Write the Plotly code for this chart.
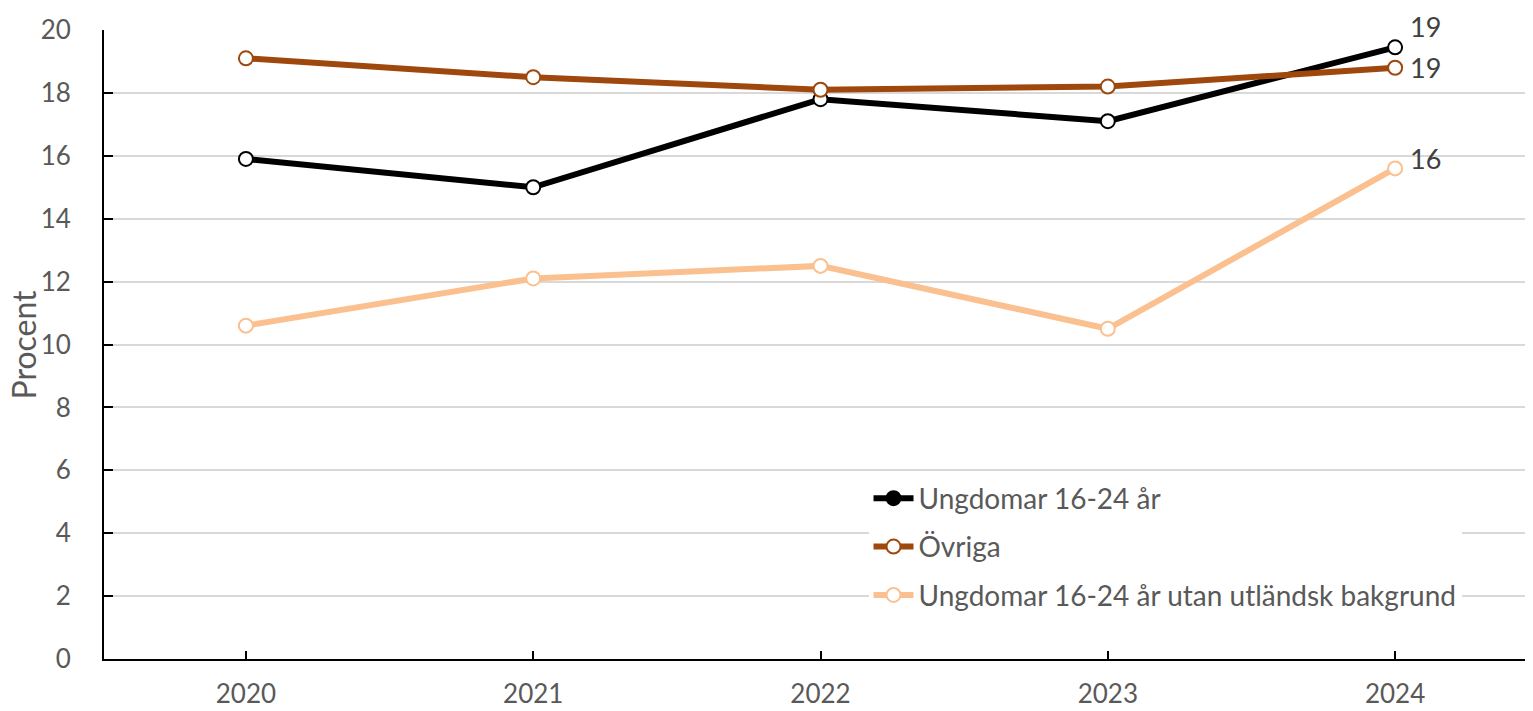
import plotly.graph_objects as go

years = ["2020", "2021", "2022", "2023", "2024"]
ungdomar = [15.9, 15.0, 17.8, 17.1, 19.45]
ovriga = [19.1, 18.5, 18.1, 18.2, 18.8]
ungdomar_utan = [10.6, 12.1, 12.5, 10.5, 15.6]
y_ticks = [0, 2, 4, 6, 8, 10, 12, 14, 16, 18, 20]
y_title = "Procent"

# name, values, line colour, legend marker fill, label y-shift
series = [
    ("Ungdomar 16-24 år", ungdomar, "#000000", "#000000", 21),
    ("Övriga", ovriga, "#9E480E", "white", 0),
    ("Ungdomar 16-24 år utan utländsk bakgrund", ungdomar_utan, "#FBC08F", "white", 10),
]

FONT = "Lato"
TXT = "#595959"

fig = go.Figure()
xs = list(range(len(years)))
for i, (name, vals, color, legfill, yshift) in enumerate(series):
    fig.add_trace(go.Scatter(
        x=xs, y=vals, name=name, mode="lines+markers", showlegend=False,
        line=dict(color=color, width=6),
        marker=dict(symbol="circle", size=14, color="white",
                    line=dict(color=color, width=2)),
    ))
    # legend entry
    fig.add_trace(go.Scatter(
        x=[None], y=[None], name=name, mode="lines+markers",
        legendgroup=f"g{i}",
        line=dict(color=color, width=6),
        marker=dict(symbol="circle", size=14, color=legfill,
                    line=dict(color=color, width=2)),
    ))
    fig.add_annotation(
        x=xs[-1], y=vals[-1], text=f"{vals[-1]:.0f}",
        showarrow=False, xanchor="left", yanchor="middle",
        xshift=13, yshift=yshift,
        font=dict(family=FONT, size=27, color="#404040"),
    )

# y-axis title as rotated text
fig.add_annotation(
    xref="paper", yref="paper", x=-0.056, y=0.5, text=y_title,
    textangle=-90, showarrow=False, xanchor="center", yanchor="middle",
    font=dict(family=FONT, size=32, color=TXT),
)

fig.update_layout(
    width=1525, height=703,
    margin=dict(l=96, r=0, t=22, b=52),
    plot_bgcolor="white", paper_bgcolor="white",
    font=dict(family=FONT, size=26, color=TXT),
    showlegend=True,
    legend=dict(
        x=0.535, y=0.295, xanchor="left", yanchor="top",
        bgcolor="white", font=dict(family=FONT, size=28, color=TXT),
        itemwidth=40, tracegroupgap=9, traceorder="grouped",
        borderwidth=0,
    ),
    xaxis=dict(
        tickmode="array", tickvals=xs, ticktext=years,
        range=[-0.494, 4.48], showgrid=False, zeroline=False, automargin=False,
        showline=True, linecolor="black", linewidth=2,
        ticks="inside", ticklen=8, tickwidth=2, tickcolor="black",
        ticklabelstandoff=11,
        tickfont=dict(family=FONT, size=26, color=TXT),
    ),
    yaxis=dict(
        range=[0, 20], tickvals=y_ticks, showgrid=True, gridcolor="#D9D9D9",
        gridwidth=2, zeroline=False, showline=True, linecolor="black", automargin=False,
        linewidth=2, ticks="inside", ticklen=9, tickwidth=2, tickcolor="black",
        ticklabelstandoff=26,
        tickfont=dict(family=FONT, size=26, color=TXT),
    ),
)

fig.write_html("out.html")
